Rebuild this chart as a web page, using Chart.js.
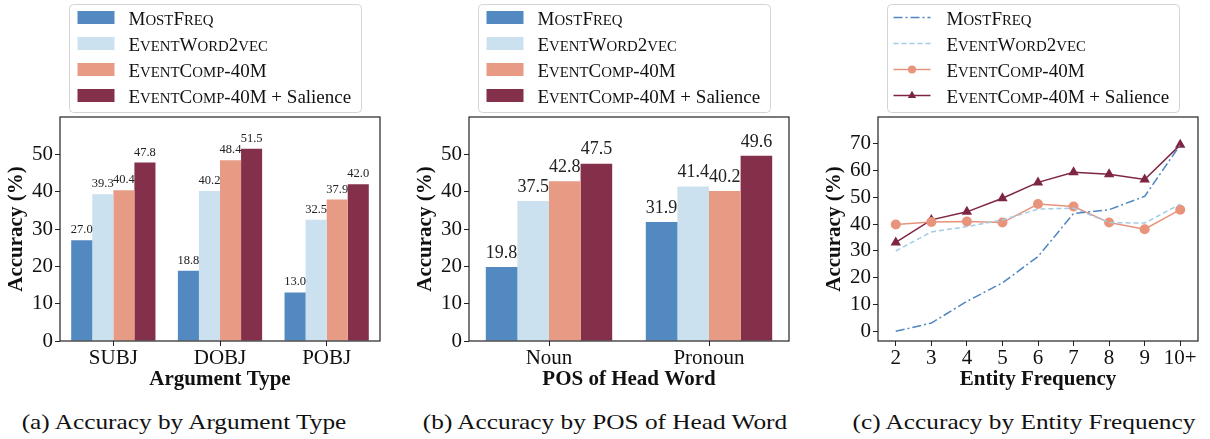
<!DOCTYPE html>
<html>
<head>
<meta charset="utf-8">
<script src="https://cdn.jsdelivr.net/npm/chart.js@4.4.1/dist/chart.umd.min.js"></script>
<style>
  body { margin: 0; background: #fff; width: 1210px; height: 439px; position: relative; overflow: hidden; font-family: "Liberation Serif", serif; }
  .panel { position: absolute; top: 0; height: 395px; }
  .cap { position: absolute; top: 409px; font-size: 22px; color: #111; text-align: center; white-space: nowrap; transform: scaleX(1.15); }
</style>
</head>
<body>
<div class="panel" style="left:0;width:400px"><canvas id="chartA"></canvas></div>
<div class="panel" style="left:409px;width:400px"><canvas id="chartB"></canvas></div>
<div class="panel" style="left:818px;width:392px"><canvas id="chartC"></canvas></div>
<div class="cap" style="left:0;width:368px">(a) Accuracy by Argument Type</div>
<div class="cap" style="left:405px;width:400px">(b) Accuracy by POS of Head Word</div>
<div class="cap" style="left:824px;width:400px">(c) Accuracy by Entity Frequency</div>

<script>
const seriesNames = ['MostFreq', 'EventWord2vec', 'EventComp-40M', 'EventComp-40M + Salience'];
const seriesColors = ['#5389c1', '#cbe1ef', '#e89b84', '#84304a'];
const lineColors = ['#4f86c2', '#a3cbe4', '#e8937c', '#7e2542'];

// (a) argument type
const argTypes = ['SUBJ', 'DOBJ', 'POBJ'];
const argMostFreq = [27.0, 18.8, 13.0];
const argWord2vec = [39.3, 40.2, 32.5];
const argComp = [40.4, 48.4, 37.9];
const argSalience = [47.8, 51.5, 42.0];

// (b) POS of head word
const posTypes = ['Noun', 'Pronoun'];
const posMostFreq = [19.8, 31.9];
const posWord2vec = [37.5, 41.4];
const posComp = [42.8, 40.2];
const posSalience = [47.5, 49.6];

// (c) entity frequency
const freqLabels = ['2', '3', '4', '5', '6', '7', '8', '9', '10+'];
const freqMostFreq = [0.0, 3.1, 11.2, 18.1, 27.9, 44.0, 45.4, 50.4, 69.6];
const freqWord2vec = [30.0, 37.1, 39.1, 41.6, 45.6, 46.0, 40.6, 40.4, 47.5];
const freqComp = [39.9, 40.8, 41.0, 40.6, 47.5, 46.6, 40.6, 38.1, 45.4];
const freqSalience = [33.2, 41.6, 44.6, 49.7, 55.6, 59.4, 58.6, 56.7, 69.6];

const barTicks = [0, 10, 20, 30, 40, 50];
const lineTicks = [0, 10, 20, 30, 40, 50, 60, 70];

const serif = '"Liberation Serif", "Times New Roman", serif';

function yScale(ticks, min, max) {
  return {
    min: min, max: max,
    afterFit: s => { s.width = 60; },
    afterBuildTicks: s => { s.ticks = ticks.map(v => ({ value: v })); },
    ticks: { font: { family: serif, size: 21 }, color: '#111', padding: 2 },
    grid: { drawOnChartArea: false, tickLength: 5, color: '#222' },
    border: { display: false },
    title: { display: true, text: 'Accuracy (%)', color: '#111', font: { family: serif, size: 21, weight: 'bold' }, padding: { top: 4, bottom: 0 } }
  };
}

function xScale(title) {
  return {
    afterFit: s => { s.height = 54; },
    ticks: { font: { family: serif, size: 21 }, color: '#111', padding: 0, autoSkip: false, maxRotation: 0 },
    grid: { offset: false, drawOnChartArea: false, tickLength: 5, color: '#222' },
    border: { display: false },
    title: { display: true, text: title, color: '#111', font: { family: serif, size: 21, weight: 'bold' }, padding: { top: 0, bottom: 3 } }
  };
}

// box around plot area
const framePlugin = {
  id: 'frame',
  afterDatasetsDraw(chart) {
    const a = chart.chartArea, ctx = chart.ctx;
    ctx.save();
    ctx.strokeStyle = '#222';
    ctx.lineWidth = 1.2;
    ctx.strokeRect(a.left, a.top, a.right - a.left, a.bottom - a.top);
    ctx.restore();
  }
};

// value labels above bars
const valuePlugin = {
  id: 'values',
  afterDatasetsDraw(chart, args, opts) {
    if (!opts.size) return;
    const ctx = chart.ctx;
    ctx.save();
    ctx.font = opts.size + 'px ' + serif;
    ctx.fillStyle = '#222';
    ctx.textAlign = 'center';
    ctx.textBaseline = 'bottom';
    chart.data.datasets.forEach((ds, i) => {
      chart.getDatasetMeta(i).data.forEach((el, j) => {
        ctx.fillText(ds.data[j].toFixed(1), el.x, el.y - opts.gap);
      });
    });
    ctx.restore();
  }
};

// small caps: lowercase letters drawn as smaller capitals
function drawSmallCaps(ctx, text, x, y, size) {
  let cx = x;
  for (const ch of text) {
    const lower = ch !== ch.toUpperCase();
    ctx.font = (lower ? size * 0.78 : size) + 'px ' + serif;
    const c = lower ? ch.toUpperCase() : ch;
    ctx.fillText(c, cx, y);
    cx += ctx.measureText(c).width;
  }
  return cx;
}

// legend box
const legendPlugin = {
  id: 'boxLegend',
  afterDraw(chart, args, opts) {
    if (!opts.kind) return;
    const ctx = chart.ctx, a = chart.chartArea;
    const x0 = a.left + 9.5, y0 = 4.5, w = 292, h = 108;
    ctx.save();
    ctx.beginPath();
    ctx.roundRect(x0, y0, w, h, 4);
    ctx.fillStyle = '#fff';
    ctx.fill();
    ctx.strokeStyle = '#d4d4d4';
    ctx.lineWidth = 1;
    ctx.stroke();
    chart.data.datasets.forEach((ds, i) => {
      const y = y0 + 13 + i * 26;
      if (opts.kind === 'bar') {
        ctx.fillStyle = ds.backgroundColor;
        ctx.fillRect(x0 + 8, y - 6.5, 37, 13);
      } else {
        ctx.strokeStyle = ds.borderColor;
        ctx.lineWidth = ds.borderWidth;
        ctx.setLineDash(ds.borderDash || []);
        ctx.beginPath();
        ctx.moveTo(x0 + 6, y);
        ctx.lineTo(x0 + 43, y);
        ctx.stroke();
        ctx.setLineDash([]);
        if (ds.pointRadius > 0) {
          ctx.fillStyle = ds.pointBackgroundColor;
          Chart.helpers.drawPoint(ctx, { pointStyle: ds.pointStyle, radius: ds.pointRadius * 0.8, borderWidth: 0 }, x0 + 24.5, y);
        }
      }
      const parts = ds.label.split(' + ');
      ctx.fillStyle = '#111';
      ctx.textBaseline = 'alphabetic';
      ctx.textAlign = 'left';
      const tx = drawSmallCaps(ctx, parts[0], x0 + 59, y + 7, 19);
      if (parts[1]) {
        ctx.font = '19px ' + serif;
        ctx.fillText(' + ' + parts[1], tx, y + 7);
      }
    });
    ctx.restore();
  }
};

Chart.register(framePlugin, valuePlugin, legendPlugin);

function barChart(id, labels, series, title, labelSize, gap) {
  return new Chart(document.getElementById(id), {
    type: 'bar',
    data: {
      labels: labels,
      datasets: series.map((d, i) => ({
        label: seriesNames[i],
        data: d,
        backgroundColor: seriesColors[i],
        borderWidth: 0,
        categoryPercentage: 0.79,
        barPercentage: 1.0
      }))
    },
    options: {
      responsive: true,
      maintainAspectRatio: false,
      animation: false,
      layout: { padding: { top: 117, right: 20, left: 0, bottom: 0 } },
      plugins: {
        legend: { display: false },
        tooltip: { enabled: false },
        values: { size: labelSize, gap: gap },
        boxLegend: { kind: 'bar' }
      },
      scales: { x: xScale(title), y: yScale(barTicks, 0, 60) }
    }
  });
}

barChart('chartA', argTypes, [argMostFreq, argWord2vec, argComp, argSalience], 'Argument Type', 12.5, 4);
barChart('chartB', posTypes, [posMostFreq, posWord2vec, posComp, posSalience], 'POS of Head Word', 18, 5);

const lineSeries = [freqMostFreq, freqWord2vec, freqComp, freqSalience];
const dashes = [[9, 3, 2, 3], [5, 3], [], []];
const markers = [false, false, 'circle', 'triangle'];

new Chart(document.getElementById('chartC'), {
  type: 'line',
  data: {
    labels: freqLabels,
    datasets: lineSeries.map((d, i) => ({
      label: seriesNames[i],
      data: d,
      borderColor: lineColors[i],
      backgroundColor: lineColors[i],
      borderWidth: 1.5,
      borderDash: dashes[i],
      pointStyle: markers[i] || 'circle',
      pointRadius: markers[i] ? (markers[i] === 'triangle' ? 6 : 5) : 0,
      pointBackgroundColor: lineColors[i],
      pointBorderWidth: 0,
      tension: 0,
      fill: false
    }))
  },
  options: {
    responsive: true,
    maintainAspectRatio: false,
    animation: false,
    layout: { padding: { top: 117, right: 12, left: 0, bottom: 0 } },
    plugins: {
      legend: { display: false },
      tooltip: { enabled: false },
      boxLegend: { kind: 'line' }
    },
    scales: {
      x: Object.assign(xScale('Entity Frequency'), { offset: true }),
      y: yScale(lineTicks, -3.6, 80)
    }
  }
});
</script>
</body>
</html>
